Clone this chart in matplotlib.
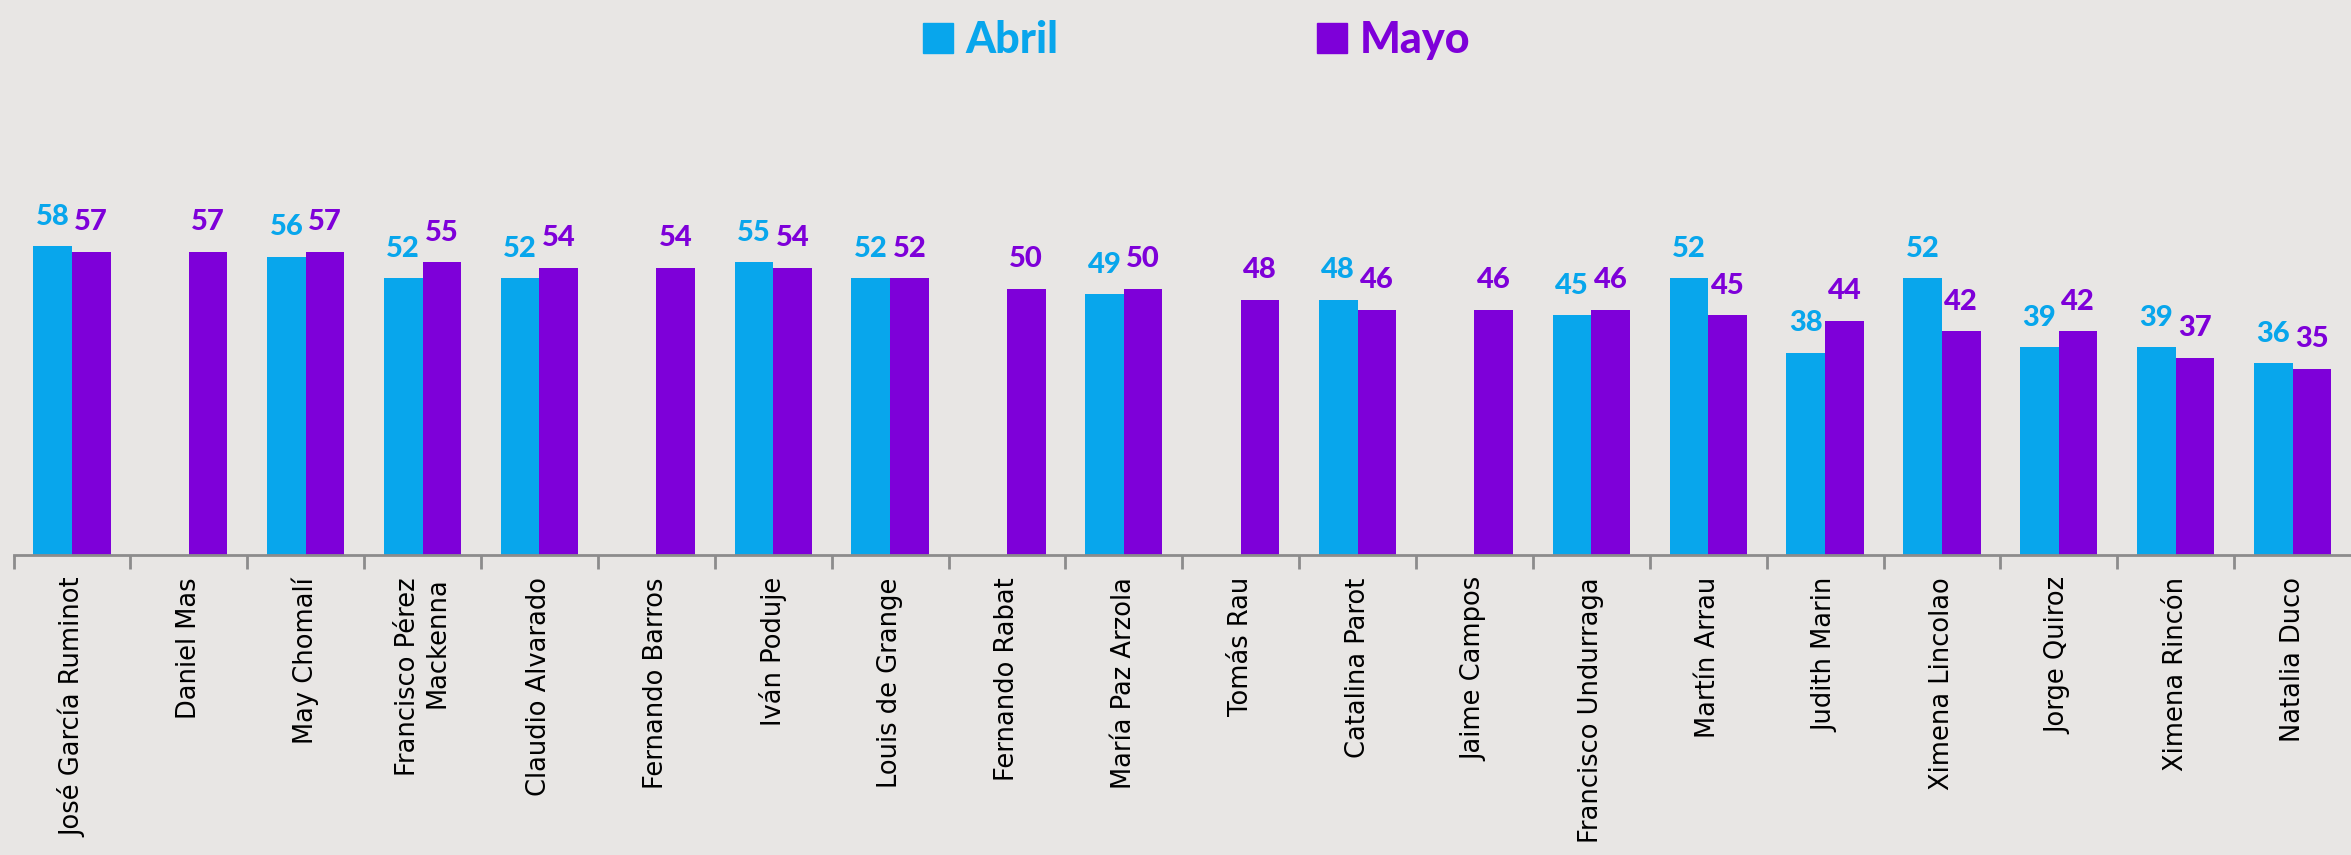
import numpy as np
import matplotlib
matplotlib.use("Agg")
import matplotlib.pyplot as plt
from matplotlib.patches import Patch

# datos
nombres = ["José García Ruminot", "Daniel Mas", "May Chomalí", "Francisco Pérez\nMackenna",
           "Claudio Alvarado", "Fernando Barros", "Iván Poduje", "Louis de Grange",
           "Fernando Rabat", "María Paz Arzola", "Tomás Rau", "Catalina Parot",
           "Jaime Campos", "Francisco Undurraga", "Martín Arrau", "Judith Marin",
           "Ximena Lincolao", "Jorge Quiroz", "Ximena Rincón", "Natalia Duco"]
abril = [58, None, 56, 52, 52, None, 55, 52, None, 49, None, 48, None, 45, 52, 38, 52, 39, 39, 36]
mayo = [57, 57, 57, 55, 54, 54, 54, 52, 50, 50, 48, 46, 46, 46, 45, 44, 42, 42, 37, 35]

c_abril = "#08A6EC"
c_mayo = "#7E00D9"
fondo = "#E8E6E4"

fig = plt.figure(figsize=(23.51, 8.55), dpi=100, facecolor=fondo)
ax = fig.add_axes([13.5 / 2351, 300 / 855, 1 - 13.5 / 2351, 495 / 855])
ax.set_facecolor(fondo)

x = np.arange(len(nombres))
w = 0.33
ab = np.array([np.nan if v is None else v for v in abril], dtype=float)
my = np.array(mayo, dtype=float)

ax.bar(x - w / 2, ab, w, color=c_abril)
ax.bar(x + w / 2, my, w, color=c_mayo)

for xi, v in zip(x, ab):
    if not np.isnan(v):
        ax.annotate(f"{int(v)}", (xi - w / 2, v), xytext=(0, 12), textcoords="offset points",
                    ha="center", va="bottom", color=c_abril, fontsize=21,
                    fontweight="black", family="Lato")
for xi, v in zip(x, my):
    ax.annotate(f"{int(v)}", (xi + w / 2, v), xytext=(0, 12), textcoords="offset points",
                ha="center", va="bottom", color=c_mayo, fontsize=21,
                fontweight="black", family="Lato")

ax.set_xlim(-0.5, len(nombres) - 0.5)
ax.set_ylim(0, 93)
ax.set_yticks([])
for s in ["top", "right", "left"]:
    ax.spines[s].set_visible(False)
ax.spines["bottom"].set_color("#8C8C8C")
ax.spines["bottom"].set_linewidth(2)

ax.set_xticks(x)
ax.set_xticklabels(nombres, rotation=90, ha="center", va="top", multialignment="right",
                   fontsize=18.5, family="DejaVu Sans")
ax.tick_params(axis="x", which="major", length=0, pad=16)
ax.set_xticks(np.arange(len(nombres)) - 0.5, minor=True)
ax.tick_params(axis="x", which="minor", length=10, width=2, color="#8C8C8C")

handles = [Patch(color=c_abril, label="Abril"), Patch(color=c_mayo, label="Mayo")]
leg = fig.legend(handles=handles, loc="center", bbox_to_anchor=(0.509, 0.953), ncol=2,
                 frameon=False, handlelength=0.7, handleheight=0.7, handletextpad=0.3,
                 columnspacing=6.0, prop={"family": "Lato", "weight": "black", "size": 31})
for t, c in zip(leg.get_texts(), [c_abril, c_mayo]):
    t.set_color(c)

fig.savefig("out.png", dpi=100, facecolor=fondo)
